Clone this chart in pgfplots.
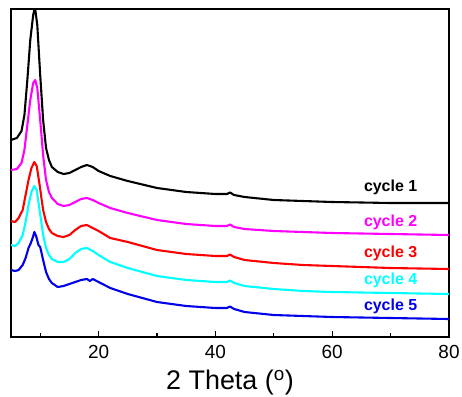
\documentclass[border=0pt]{standalone}
\usepackage{fontspec}
\setmainfont{Liberation Sans}
\usepackage{pgfplots}
\pgfplotsset{compat=1.18}
\definecolor{cMag}{RGB}{255,0,255}
\definecolor{cRed}{RGB}{255,0,0}
\definecolor{cCyan}{RGB}{0,255,255}
\definecolor{cBlue}{RGB}{0,0,235}
\begin{document}
\begin{tikzpicture}
\begin{axis}[
  scale only axis,
  width=438bp, height=328bp,
  xmin=5, xmax=80, ymin=0, ymax=328,
  xtick={20,40,60,80},
  minor xtick={10,30,50,70},
  ytick=\empty,
  xtick pos=lower,
  tick align=inside,
  major tick length=6bp,
  minor tick length=4bp,
  every tick/.style={black, line width=1.2pt},
  axis line style={line width=1.4pt},
  /pgf/number format/assume math mode=true,
  tick label style={font=\fontsize{19}{22}\selectfont},
  xticklabel style={yshift=-5bp},
  xlabel={2 Theta (\textsuperscript{o})},
  xlabel style={font=\fontsize{27}{31}\selectfont, yshift=-4bp},
  clip=true,
  every axis plot/.append style={line width=2.1pt, line join=round},
]
% cycle 1
\addplot[black] coordinates {
(5.0,197) (6.0,199) (6.8,206) (7.3,222) (7.8,257) (8.3,297) (8.8,322) (9.1,330)
(9.5,312) (10.0,262) (10.5,217) (11.0,189) (11.5,177) (12.0,170) (13.0,165) (14.0,163)
(15.0,164) (16.0,167) (17.0,170) (18.0,172) (19.0,170) (20.0,166) (22,161) (25,156)
(30,149) (35,145) (40,143) (42,143) (42.5,144.5) (43.2,142) (45,140) (50,137) (55,136)
(60,135) (70,134) (80,134)};
% cycle 2
\addplot[cMag] coordinates {
(5.0,167) (6.0,168) (6.8,174) (7.3,187) (7.8,212) (8.3,237) (8.8,254) (9.15,257)
(9.5,249) (10.0,217) (10.5,182) (11.0,157) (11.5,145) (12.0,139) (13.0,133) (14.0,131)
(15.0,132) (16.0,135) (17.0,138) (18.0,139) (19.0,137) (20.0,134) (22,129) (25,124)
(30,117) (35,113) (40,111) (42,111) (42.5,112.5) (43.2,110) (45,108) (50,106) (55,105)
(60,104) (70,103) (80,102)};
% cycle 3
\addplot[cRed] coordinates {
(5.0,116) (5.7,115) (6.3,119) (7.0,127) (7.5,142) (8.0,157) (8.5,169) (9.0,175)
(9.4,171) (9.9,152) (10.5,127) (11.0,115) (11.5,108) (12.0,104) (13.0,101) (14.0,100)
(15.0,102) (16.0,107) (17.0,111) (18.0,112) (19.0,109) (20.0,106) (22,99) (25,95)
(30,87) (35,83) (40,81) (42,81) (42.5,82.5) (43.2,80) (45,77) (50,74) (55,72)
(60,71) (70,69) (80,68)};
% cycle 4
\addplot[cCyan] coordinates {
(5.0,92) (5.7,91) (6.3,94) (7.0,102) (7.5,115) (8.0,132) (8.5,145) (9.0,151)
(9.4,147) (9.9,127) (10.5,102) (11.0,89) (11.5,82) (12.0,78) (13.0,75) (14.0,75)
(15.0,78) (16.0,84) (17.0,88) (18.0,89) (19.0,86) (20.0,82) (22,75) (25,69)
(30,61) (35,57) (40,55) (42,55) (42.5,56.5) (43.2,54) (45,51) (50,48) (55,46)
(60,45) (70,44) (80,43)};
% cycle 5
\addplot[cBlue] coordinates {
(5.0,67) (5.7,66) (6.3,67) (7.0,72) (7.5,79) (8.0,89) (8.4,94) (8.7,99) (9.0,105)
(9.3,101) (9.7,92) (10.0,90) (10.5,77) (11.0,65) (11.5,58) (12.0,54) (13.0,50)
(14.0,51) (15.0,53) (16.0,55) (17.0,57) (18.0,58) (18.5,56) (19.0,58) (20.0,55)
(22,49) (25,43) (30,35) (35,31) (40,29) (42,29) (42.5,30.5) (43.2,28) (45,25) (50,22)
(55,21) (60,20) (70,19) (80,18)};
\node[font=\fontsize{16}{19}\selectfont\bfseries, text=black] at (axis cs:70,150) {cycle 1};
\node[font=\fontsize{16}{19}\selectfont\bfseries, text=cMag] at (axis cs:70,115) {cycle 2};
\node[font=\fontsize{16}{19}\selectfont\bfseries, text=cRed] at (axis cs:70,84) {cycle 3};
\node[font=\fontsize{16}{19}\selectfont\bfseries, text=cCyan] at (axis cs:70,57) {cycle 4};
\node[font=\fontsize{16}{19}\selectfont\bfseries, text=cBlue] at (axis cs:70,31) {cycle 5};
\coordinate (bl) at (rel axis cs:0,0);
\coordinate (tr) at (rel axis cs:1,1);
\end{axis}
\pgfresetboundingbox
\path ([shift={(-11bp,-59bp)}]bl) rectangle ([shift={(13bp,9bp)}]tr);
\end{tikzpicture}
\end{document}
